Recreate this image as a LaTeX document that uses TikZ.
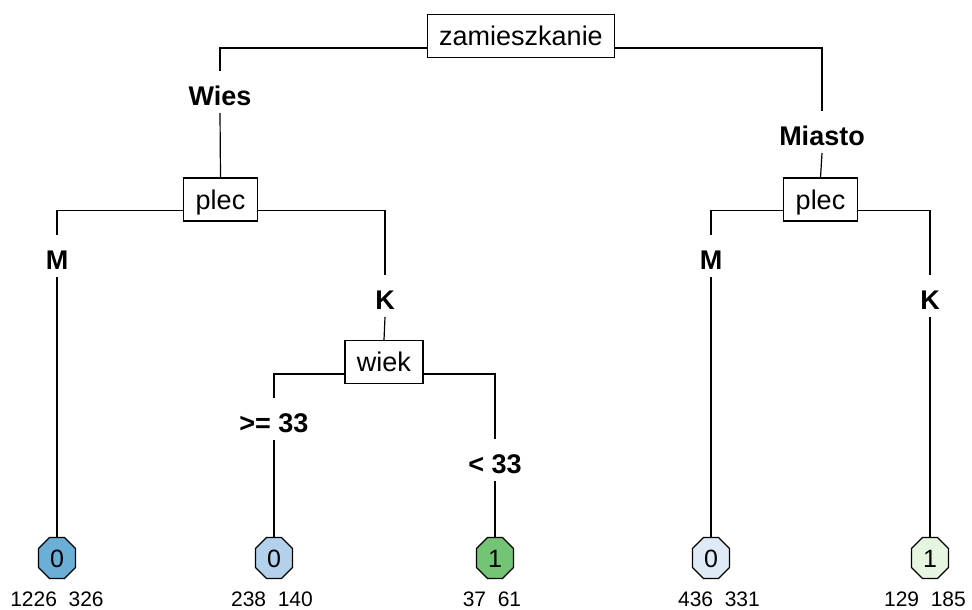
\documentclass[tikz,border=0pt]{standalone}
\usepackage{fontspec}
\setmainfont{Liberation Sans}
\usetikzlibrary{shapes.misc}
\definecolor{leafblueA}{HTML}{6BAED6}
\definecolor{leafblueB}{HTML}{B3D1EA}
\definecolor{leafblueC}{HTML}{DEEBF7}
\definecolor{leafgreenA}{HTML}{74C476}
\definecolor{leafgreenB}{HTML}{E5F5E0}

\begin{document}
\begin{tikzpicture}[x=1pt,y=-1pt,
  box/.style={rectangle,draw,line width=1.1pt,inner xsep=12pt,inner ysep=0pt,
    minimum height=43pt,text height=19.3pt,text depth=0pt,
    font=\fontsize{27}{30}\selectfont},
  lab/.style={inner sep=0pt,outer sep=0pt,anchor=base,
    text height=34pt,text depth=8pt,
    font=\fontsize{27}{30}\selectfont\bfseries},
  leaf/.style={chamfered rectangle,chamfered rectangle xsep=5pt,
    chamfered rectangle ysep=6pt,draw,line width=1.1pt,inner sep=0pt,
    minimum width=37pt,minimum height=41pt,text height=18pt,text depth=0pt,
    font=\fontsize{25}{28}\selectfont},
  cnt/.style={anchor=base,inner sep=0pt,font=\fontsize{21}{24}\selectfont},
  edge/.style={line width=1.2pt}]

  \useasboundingbox (0,0) rectangle (972,610);

  % splits
  \node[box] (root) at (521,36) {zamieszkanie};
  \node[box] (plecW) at (220.5,199.5) {plec};
  \node[box] (plecM) at (820.5,199.5) {plec};
  \node[box] (wiek) at (384,362) {wiek};

  % split labels
  \node[lab] (lWies) at (220,105) {Wies};
  \node[lab] (lMiasto) at (822,145) {Miasto};
  \node[lab] (lM1) at (57,269) {M};
  \node[lab] (lK1) at (385,309) {K};
  \node[lab] (lM2) at (711,269) {M};
  \node[lab] (lK2) at (930,309) {K};
  \node[lab] (lGe) at (274,432) {>= 33};
  \node[lab] (lLt) at (495,473) {< 33};

  % leaves
  \node[leaf,fill=leafblueA] (leafA) at (57,558) {0};
  \node[leaf,fill=leafblueB] (leafB) at (274,558) {0};
  \node[leaf,fill=leafgreenA] (leafC) at (495,558) {1};
  \node[leaf,fill=leafblueC] (leafD) at (711,558) {0};
  \node[leaf,fill=leafgreenB] (leafE) at (930,558) {1};

  \node[cnt] (nA) at (57,606) {1226\ \ 326};
  \node[cnt] (nB) at (272,606) {238\ \ 140};
  \node[cnt] (nC) at (492,606) {37\ \ 61};
  \node[cnt] (nD) at (719,606) {436\ \ 331};
  \node[cnt] (nE) at (925,606) {129\ \ 185};

  % branches
  \draw[edge] ([yshift=10pt]root.south west) -| (lWies.north);
  \draw[edge] ([yshift=10pt]root.south east) -| (lMiasto.north);
  \draw[edge] (lWies.south) -- (plecW.north);
  \draw[edge] (lMiasto.south) -- (plecM.north);

  \draw[edge] ([yshift=11pt]plecW.south west) -| (lM1.north);
  \draw[edge] ([yshift=11pt]plecW.south east) -| (lK1.north);
  \draw[edge] (lM1.south) -- (leafA.north);
  \draw[edge] (lK1.south) -- (wiek.north);

  \draw[edge] ([yshift=10pt]wiek.south west) -| (lGe.north);
  \draw[edge] ([yshift=10pt]wiek.south east) -| (lLt.north);
  \draw[edge] (lGe.south) -- (leafB.north);
  \draw[edge] (lLt.south) -- (leafC.north);

  \draw[edge] ([yshift=11pt]plecM.south west) -| (lM2.north);
  \draw[edge] ([yshift=11pt]plecM.south east) -| (lK2.north);
  \draw[edge] (lM2.south) -- (leafD.north);
  \draw[edge] (lK2.south) -- (leafE.north);
\end{tikzpicture}
\end{document}
